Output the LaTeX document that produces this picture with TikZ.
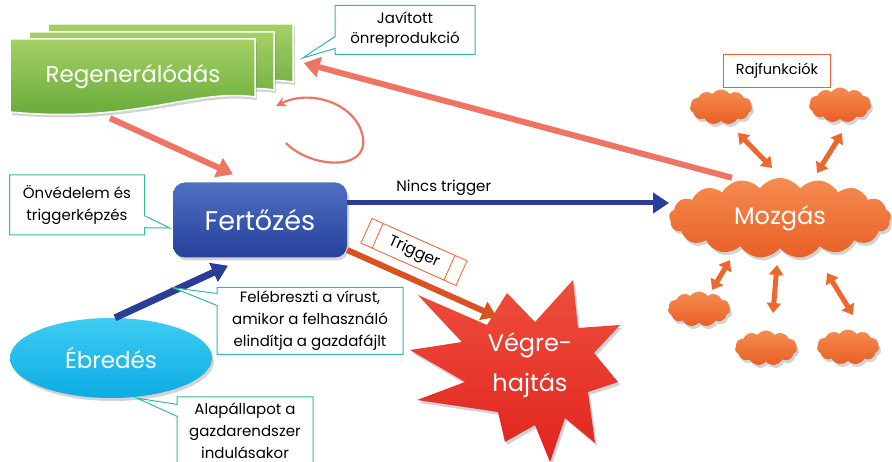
\documentclass[tikz,border=0pt]{standalone}
\usepackage{fontspec}
\setmainfont{Poppins}
\usetikzlibrary{
    arrows.meta,
    shapes.geometric,
    shapes.symbols,
    shapes.callouts,
    shadows,
    calc,
    positioning,
}
\definecolor{regenTop}{RGB}{165,208,100}
\definecolor{regenBottom}{RGB}{96,168,54}
\definecolor{fertTop}{RGB}{78,112,192}
\definecolor{fertBottom}{RGB}{38,64,156}
\definecolor{ebrTop}{RGB}{62,204,242}
\definecolor{ebrBottom}{RGB}{12,172,228}
\definecolor{cloudTop}{RGB}{244,140,80}
\definecolor{cloudBottom}{RGB}{233,95,38}
\definecolor{starTop}{RGB}{238,78,62}
\definecolor{starBottom}{RGB}{226,36,30}
\definecolor{salmon}{RGB}{240,116,100}
\definecolor{navy}{RGB}{42,62,152}
\definecolor{rust}{RGB}{218,82,34}
\definecolor{tealLine}{RGB}{52,186,156}
\definecolor{orangeLine}{RGB}{238,96,50}
\definecolor{dblOrange}{RGB}{236,104,44}

\begin{document}
\begin{tikzpicture}[x=1pt,y=-1pt,>={Triangle[length=16pt,width=20pt]},auto]

    \tikzstyle{softShadow}=[drop shadow={shadow xshift=2pt,shadow yshift=-3pt,opacity=0.35}]
    \tikzstyle{commonNode}=[align=center, text=white, inner sep=0pt, font=\fontsize{24}{31}\selectfont]
    \tikzstyle{module}=[commonNode, rectangle, rounded corners=12pt, top color=fertTop, bottom color=fertBottom, minimum width=174pt, minimum height=75pt, softShadow]
    \tikzstyle{wakeNode}=[commonNode, ellipse, top color=ebrTop, bottom color=ebrBottom, minimum width=202pt, minimum height=80pt, softShadow]
    \tikzstyle{bigCloud}=[commonNode, cloud, cloud puffs=17, cloud puff arc=110, cloud ignores aspect, top color=cloudTop, bottom color=cloudBottom, softShadow]
    \tikzstyle{smallCloud}=[bigCloud, cloud puffs=11, minimum width=62pt, minimum height=35pt]
    \tikzstyle{docShape}=[top color=regenTop, bottom color=regenBottom, draw=white, line width=1.5pt, softShadow]
    \tikzstyle{note}=[rectangle callout, draw=tealLine, line width=1pt, fill=white, align=center, inner sep=2pt, callout pointer width=12pt, font=\fontsize{15}{22}\selectfont]
    \tikzstyle{tagBox}=[draw=orangeLine, line width=1pt, fill=white, inner sep=0pt, font=\fontsize{14.5}{17}\selectfont]
    \tikzstyle{pinkArrow}=[->, draw=salmon, line width=6pt]
    \tikzstyle{blueArrow}=[->, draw=navy, line width=6pt]
    \tikzstyle{trigArrow}=[->, draw=rust, line width=6pt, >={Triangle[length=15pt,width=19pt]}]
    \tikzstyle{dblArrow}=[{Triangle[length=10pt,width=14pt]}-{Triangle[length=10pt,width=14pt]}, draw=dblOrange, line width=5pt]

    \useasboundingbox (0,0) rectangle (892,462);

    % Regeneration stack
    \foreach \dx/\dy in {38/15, 19/7, 0/0} {
        \begin{scope}[shift={(\dx,-\dy)}]
            \path[docShape] (10,39) -- (255,39) -- (255,97)
                .. controls (195,88) and (135,124) .. (10,112) -- cycle;
        \end{scope}
    }
    \node at (133,77) [commonNode, font=\fontsize{23}{28}\selectfont, minimum width=245pt, minimum height=66pt] (regen) {Regenerálódás};

    % Explosion
    \path[top color=starTop, bottom color=starBottom, softShadow]
        (418,295) -- (487,325) -- (507,293) -- (535,322) -- (573,280) -- (578,328)
        -- (620,325) -- (594,353) -- (618,382) -- (588,392) -- (595,443) -- (565,418)
        -- (550,462) -- (535,425) -- (505,442) -- (498,412) -- (417,400) -- (465,382)
        -- (410,350) -- (462,342) -- cycle;
    \node at (530,365) [commonNode, font=\fontsize{24}{40}\selectfont] (veg) {Végre-\\hajtás};

    % Main nodes
    \node at (260,220) [module, font=\fontsize{27}{31}\selectfont] (fert) {Fertőzés};
    \node at (111,358) [wakeNode, font=\fontsize{23}{28}\selectfont] (ebr) {Ébredés};
    \node at (780,218) [bigCloud, minimum width=222pt, minimum height=80pt] (mozgas) {Mozgás};

    % Swarm clouds
    \node at (721,107) [smallCloud] (c1) {};
    \node at (840,105) [smallCloud] (c2) {};
    \node at (699,309) [smallCloud] (c3) {};
    \node at (766,348) [smallCloud] (c4) {};
    \node at (848,347) [smallCloud] (c5) {};
    \node at (777,71) [tagBox, minimum width=107pt, minimum height=33pt] (raj) {Rajfunkciók};

    % Connectors
    \draw[pinkArrow] ([xshift=-23pt,yshift=-8pt]regen.south) -- ([xshift=-27pt,yshift=8pt]fert.north);
    \draw[pinkArrow] ([xshift=-48pt]mozgas.north) -- ([xshift=48pt,yshift=14pt]regen.east);
    \draw[->, draw=salmon, line width=2.2pt, >={Stealth[length=10pt,width=10pt]}]
        (286,143) .. controls (310,168) and (368,172) .. (363,138)
        .. controls (358,105) and (312,88) .. (276,106);
    \draw[blueArrow, line width=5pt] ([yshift=17pt]fert.east) -- ([yshift=17pt]fert.east -| mozgas.west)
        node [pos=0.3, above=2pt, text=black, font=\fontsize{15}{18}\selectfont] (nincs) {Nincs trigger};
    \draw[trigArrow] ([yshift=-30pt]fert.east) -- ([xshift=-33pt,yshift=48pt]veg.center);
    \draw[blueArrow, line width=7pt] ([xshift=4pt]ebr.north) -- ([xshift=-32pt,yshift=-8pt]fert.south);

    % Trigger label
    \node at (414,252) [draw=orangeLine, line width=0.8pt, fill=white, rotate=-24, minimum width=104pt, minimum height=27pt, inner sep=0pt, font=\fontsize{15.5}{17}\selectfont] (trig) {Trigger};
    \draw[orangeLine, line width=0.8pt] ($(trig.north west)!0.12!(trig.north east)$) -- ($(trig.south west)!0.12!(trig.south east)$);
    \draw[orangeLine, line width=0.8pt] ($(trig.north west)!0.87!(trig.north east)$) -- ($(trig.south west)!0.87!(trig.south east)$);

    % Swarm links
    \draw[dblArrow] ([xshift=17pt,yshift=-26pt]c1.center) -- ([xshift=-8pt,yshift=50pt]mozgas.center);
    \draw[dblArrow] ([xshift=2pt,yshift=-28pt]c2.center) -- ([xshift=37pt,yshift=45pt]mozgas.center);
    \draw[dblArrow] ([xshift=-50pt,yshift=-42pt]mozgas.center) -- ([xshift=13pt,yshift=19pt]c3.center);
    \draw[dblArrow] ([xshift=-3pt,yshift=-47pt]mozgas.center) -- ([xshift=7pt,yshift=35pt]c4.center);
    \draw[dblArrow] ([xshift=47pt,yshift=-55pt]mozgas.center) -- ([xshift=5pt,yshift=32pt]c5.center);

    % Callouts
    \node at (405,30) [note, font=\fontsize{15}{20}\selectfont, minimum width=140pt, minimum height=49pt,
        callout absolute pointer={([xshift=47pt,yshift=19pt]regen.east)}] (javitott) {Javított\\önreprodukció};
    \node at (77,205) [note, minimum width=135pt, minimum height=60pt,
        callout absolute pointer={([xshift=-3pt,yshift=-8pt]fert.west)}] (onved) {Önvédelem és\\triggerképzés};
    \node at (310,321) [note, minimum width=186pt, minimum height=67pt,
        callout absolute pointer={([xshift=-87pt,yshift=-30pt]fert.south)}] (felebr) {Felébreszti a vírust,\\amikor a felhasználó\\elindítja a gazdafájlt};
    \node at (245,431) [note, minimum width=136pt, minimum height=68pt,
        callout absolute pointer={([xshift=26pt]ebr.south)}] (alap) {Alapállapot a\\gazdarendszer\\indulásakor};

\end{tikzpicture}
\end{document}
